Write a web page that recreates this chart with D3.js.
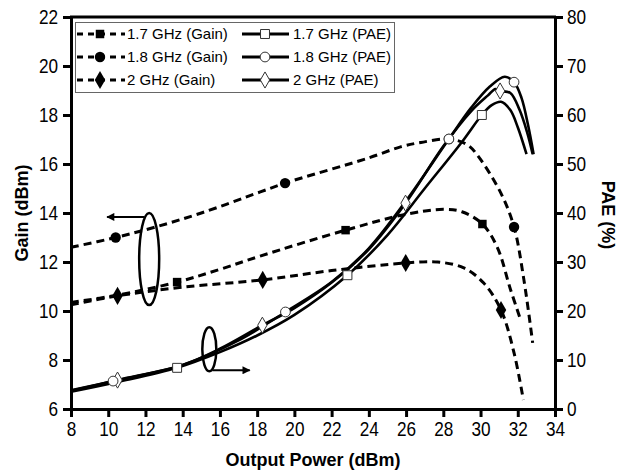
<!DOCTYPE html>
<html>
<head>
<meta charset="utf-8">
<script src="https://cdn.jsdelivr.net/npm/d3@7"></script>
<style>
  body { margin: 0; background: #fff; }
  text { font-family: "Liberation Sans", Arial, sans-serif; fill: #000; }
</style>
</head>
<body>
<div id="chart"></div>
<script>
var width = 619, height = 473;

// gain curves (left axis, dBm)
var gain17X = [8, 10.5, 13.7, 16, 18.2, 22.75, 26, 28, 29, 30.1, 30.9, 31.6, 32.17];
var gain17Y = [10.35, 10.65, 11.18, 11.7, 12.25, 13.3, 13.95, 14.15, 14.05, 13.55, 12.6, 10.9, 9.6];
var gain18X = [8, 10.4, 12.5, 15, 18.17, 19.5, 24, 25.7, 26.8, 28.3, 29.3, 29.9, 31.1, 31.8, 32.33, 32.8];
var gain18Y = [12.6, 13.0, 13.42, 14.0, 14.86, 15.22, 16.25, 16.7, 16.88, 17.02, 16.78, 16.29, 14.8, 13.43, 11.27, 8.7];
var gain20X = [8, 10.5, 14, 18.3, 22, 25.98, 27.7, 29.1, 30.17, 31.1, 31.8, 32.3];
var gain20Y = [10.25, 10.62, 10.97, 11.27, 11.65, 11.96, 12.0, 11.76, 11.14, 10.04, 8.29, 6.37];

// PAE curves (right axis, %)
var pae17X = [8, 10.5, 13.7, 16, 18, 20, 22.85, 25, 27, 29, 30.07, 30.6, 31.1, 31.6, 32.0, 32.47];
var pae17Y = [3.5, 5.5, 8.4, 11.6, 15.0, 19.2, 27.3, 35.5, 45.0, 54.5, 60.0, 62.0, 62.7, 61.0, 57.5, 52.0];
var pae18X = [8, 10.26, 14, 17, 19.52, 22, 24, 26, 28.3, 29.5, 30.5, 31.3, 31.8, 32.2, 32.55, 32.85];
var pae18Y = [3.8, 5.7, 9.0, 14.0, 19.8, 25.9, 32.8, 42.5, 55.1, 61.5, 65.8, 67.8, 66.7, 63.5, 58.0, 52.0];
var pae20X = [8, 10.5, 14, 16, 18.28, 20, 22, 24, 25.97, 28, 29.5, 30.4, 30.8, 31.05, 31.6, 32.1, 32.5, 32.8];
var pae20Y = [3.7, 5.9, 9.0, 12.3, 17.1, 20.6, 25.8, 32.6, 42.0, 53.6, 60.8, 64.0, 65.3, 64.9, 64.5, 61.0, 56.5, 52.0];

// measured points (markers)
var gain17Marks = [[13.7, 11.18], [22.75, 13.3], [30.1, 13.55]];
var gain18Marks = [[10.4, 13.0], [19.5, 15.22], [28.3, 17.02], [31.8, 13.43]];
var gain20Marks = [[10.5, 10.62], [18.3, 11.27], [25.98, 11.96], [31.1, 10.04]];
var pae17Marks = [[13.7, 8.4], [22.85, 27.3], [30.07, 60.0]];
var pae18Marks = [[10.26, 5.7], [19.52, 19.8], [28.3, 55.1], [31.8, 66.7]];
var pae20Marks = [[10.5, 5.9], [18.28, 17.1], [25.97, 42.0], [31.05, 64.9]];

var xTicks = [8, 10, 12, 14, 16, 18, 20, 22, 24, 26, 28, 30, 32, 34];
var gainTicks = [6, 8, 10, 12, 14, 16, 18, 20, 22];
var paeTicks = [0, 10, 20, 30, 40, 50, 60, 70, 80];

var legendLabels = [
  ["1.7 GHz (Gain)", "1.7 GHz (PAE)"],
  ["1.8 GHz (Gain)", "1.8 GHz (PAE)"],
  ["2 GHz (Gain)", "2 GHz (PAE)"]
];
var legendSymbols = ["square", "circle", "diamond"];

var x = d3.scaleLinear().domain([8, 34]).range([71, 555]);
var yG = d3.scaleLinear().domain([6, 22]).range([409, 17]);
var yP = d3.scaleLinear().domain([0, 80]).range([409, 17]);

var svg = d3.select("#chart").append("svg").attr("width", width).attr("height", height);

function zip(a, b) { return a.map(function(v, i) { return [v, b[i]]; }); }

var lineG = d3.line().x(function(d) { return x(d[0]); }).y(function(d) { return yG(d[1]); }).curve(d3.curveCatmullRom.alpha(0.5));
var lineP = d3.line().x(function(d) { return x(d[0]); }).y(function(d) { return yP(d[1]); }).curve(d3.curveCatmullRom.alpha(0.5));

function symbolPath(kind, size) {
  var t = kind == "square" ? d3.symbolSquare : kind == "circle" ? d3.symbolCircle : d3.symbolDiamond;
  return d3.symbol().type(t).size(size)();
}
var filledSize = { square: 72, circle: 85, diamond: 95 };
var openSize = { square: 80, circle: 75, diamond: 75 };

// gain curves
var gains = [[zip(gain17X, gain17Y), gain17Marks, "square"],
             [zip(gain18X, gain18Y), gain18Marks, "circle"],
             [zip(gain20X, gain20Y), gain20Marks, "diamond"]];
gains.forEach(function(g) {
  svg.append("path").attr("d", lineG(g[0]))
    .attr("fill", "none").attr("stroke", "#000").attr("stroke-width", 3)
    .attr("stroke-dasharray", "8,5");
});
gains.forEach(function(g) {
  svg.selectAll(null).data(g[1]).enter().append("path")
    .attr("d", symbolPath(g[2], filledSize[g[2]]))
    .attr("transform", function(d) { return "translate(" + x(d[0]) + "," + yG(d[1]) + ")"; })
    .attr("fill", "#000");
});

// PAE curves
var paes = [[zip(pae17X, pae17Y), pae17Marks, "square"],
            [zip(pae20X, pae20Y), pae20Marks, "diamond"],
            [zip(pae18X, pae18Y), pae18Marks, "circle"]];
paes.forEach(function(p) {
  svg.append("path").attr("d", lineP(p[0]))
    .attr("fill", "none").attr("stroke", "#000").attr("stroke-width", 2.6);
});
paes.forEach(function(p) {
  svg.selectAll(null).data(p[1]).enter().append("path")
    .attr("d", symbolPath(p[2], openSize[p[2]]))
    .attr("transform", function(d) { return "translate(" + x(d[0]) + "," + yP(d[1]) + ")"; })
    .attr("fill", "#fff").attr("stroke", "#333").attr("stroke-width", 1);
});

// annotations: ellipses + arrows
svg.append("defs").append("marker")
  .attr("id", "arr").attr("viewBox", "0 0 10 10").attr("refX", 9).attr("refY", 5)
  .attr("markerWidth", 5).attr("markerHeight", 4).attr("orient", "auto")
  .append("path").attr("d", "M0,0L10,5L0,10z").attr("fill", "#000");

svg.append("ellipse").attr("cx", x(12.2)).attr("cy", yG(12.12))
  .attr("rx", 10).attr("ry", yG(10.24) - yG(12.12))
  .attr("fill", "none").attr("stroke", "#000").attr("stroke-width", 2.5);
svg.append("line").attr("x1", x(11.95)).attr("y1", yG(13.84)).attr("x2", x(9.94)).attr("y2", yG(13.84))
  .attr("stroke", "#000").attr("stroke-width", 2).attr("marker-end", "url(#arr)");

svg.append("ellipse").attr("cx", x(15.43)).attr("cy", yP(12.2))
  .attr("rx", 7).attr("ry", yP(7.7) - yP(12.2))
  .attr("fill", "none").attr("stroke", "#000").attr("stroke-width", 2.5);
svg.append("line").attr("x1", x(15.6)).attr("y1", yP(7.9)).attr("x2", x(17.6)).attr("y2", yP(7.9))
  .attr("stroke", "#000").attr("stroke-width", 2).attr("marker-end", "url(#arr)");

// axes
function styleAxis(g) {
  g.selectAll(".domain").attr("stroke", "#000").attr("stroke-width", 3);
  g.selectAll(".tick line").attr("stroke", "#000").attr("stroke-width", 3);
  g.selectAll("text").style("font-size", "20px").attr("fill", "#000");
}
function condense(g) {
  g.selectAll(".tick text").each(function() {
    var t = d3.select(this);
    var tx = +t.attr("x") || 0;
    t.attr("transform", "translate(" + tx + ",0) scale(0.86,1)").attr("x", 0);
  });
}

var gx = svg.append("g").attr("transform", "translate(0,409)")
  .call(d3.axisBottom(x).tickValues(xTicks).tickSize(8).tickSizeOuter(0).tickPadding(5).tickFormat(d3.format("d")));
styleAxis(gx); condense(gx);

var gl = svg.append("g").attr("transform", "translate(71,0)")
  .call(d3.axisLeft(yG).tickValues(gainTicks).tickSize(8).tickSizeOuter(0).tickPadding(5).tickFormat(d3.format("d")));
styleAxis(gl); condense(gl);

var gr = svg.append("g").attr("transform", "translate(555,0)")
  .call(d3.axisRight(yP).tickValues(paeTicks).tickSize(8).tickSizeOuter(0).tickPadding(4).tickFormat(d3.format("d")));
styleAxis(gr); condense(gr);

svg.append("line").attr("x1", 70).attr("x2", 556).attr("y1", 17).attr("y2", 17)
  .attr("stroke", "#000").attr("stroke-width", 3);

// axis titles
svg.append("text").attr("x", 313).attr("y", 466).attr("text-anchor", "middle")
  .style("font-size", "18px").style("font-weight", "bold").text("Output Power (dBm)");
svg.append("text").attr("transform", "translate(28,213) rotate(-90)").attr("text-anchor", "middle")
  .style("font-size", "18px").style("font-weight", "bold").text("Gain (dBm)");
svg.append("text").attr("transform", "translate(602,215) rotate(90)").attr("text-anchor", "middle")
  .style("font-size", "18px").style("font-weight", "bold").text("PAE (%)");

// legend
var lg = svg.append("g");
lg.append("rect").attr("x", 75.5).attr("y", 22.5).attr("width", 319).attr("height", 70)
  .attr("fill", "#fff").attr("stroke", "#666").attr("stroke-width", 1);
legendLabels.forEach(function(row, i) {
  var yy = 34 + i * 23;
  var kind = legendSymbols[i];
  lg.append("line").attr("x1", 77).attr("x2", 125).attr("y1", yy).attr("y2", yy)
    .attr("stroke", "#000").attr("stroke-width", 3).attr("stroke-dasharray", "6,5");
  lg.append("path").attr("d", symbolPath(kind, filledSize[kind]))
    .attr("transform", "translate(100," + yy + ")").attr("fill", "#000");
  lg.append("text").attr("x", 127).attr("y", yy).attr("dy", "0.36em")
    .style("font-size", "15px").text(row[0]);
  lg.append("line").attr("x1", 242).attr("x2", 289).attr("y1", yy).attr("y2", yy)
    .attr("stroke", "#000").attr("stroke-width", 2.8);
  lg.append("path").attr("d", symbolPath(kind, openSize[kind]))
    .attr("transform", "translate(265," + yy + ")")
    .attr("fill", "#fff").attr("stroke", "#333").attr("stroke-width", 1);
  lg.append("text").attr("x", 293).attr("y", yy).attr("dy", "0.36em")
    .style("font-size", "15px").text(row[1]);
});
</script>
</body>
</html>
